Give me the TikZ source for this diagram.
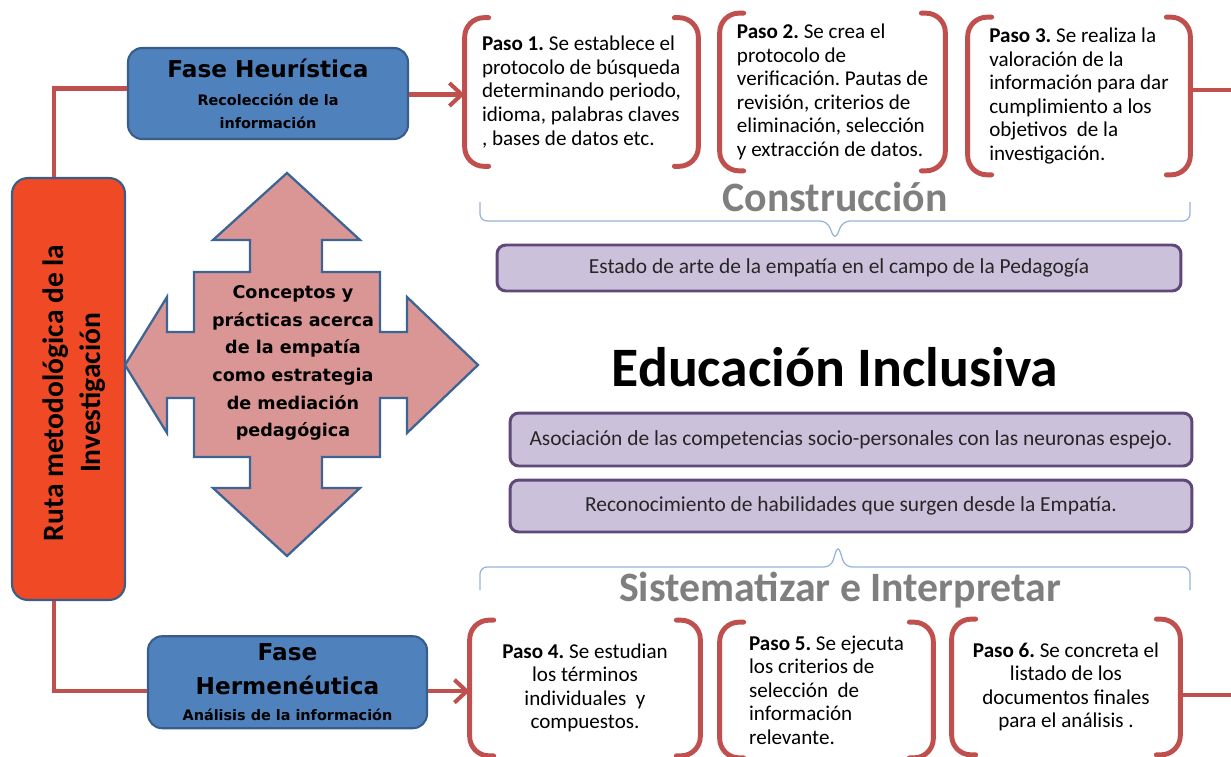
\documentclass[tikz,border=0pt]{standalone}
\usepackage{fontspec}
\setmainfont{Carlito}
\newfontfamily\tahfont{DejaVu Sans}
\usepackage{tikz}
\usetikzlibrary{shapes.geometric, arrows.meta, positioning, calc}

\definecolor{linkred}{HTML}{C0504D}
\definecolor{phaseblue}{HTML}{4F81BD}
\definecolor{phaseedge}{HTML}{385D8A}
\definecolor{rutared}{HTML}{EF4A25}
\definecolor{crosspink}{HTML}{D99694}
\definecolor{crossedge}{HTML}{3C6494}
\definecolor{lavender}{HTML}{CCC1DA}
\definecolor{lavedge}{HTML}{5F497A}
\definecolor{stagegray}{HTML}{7F7F7F}
\definecolor{braceblue}{HTML}{95B3D7}

\newcommand{\phasetitle}{\fontsize{13.2}{19.8}\selectfont}
\newcommand{\phasesub}{\fontsize{8.2}{12.5}\selectfont}

\begin{document}
\frenchspacing
\begin{tikzpicture}[x=0.02cm, y=-0.02cm]
    \tikzstyle{phase} = [rectangle, rounded corners=8pt, draw=phaseedge, line width=1.2pt, fill=phaseblue, align=center, inner sep=0pt, font=\tahfont\bfseries]
    \tikzstyle{steptext} = [rectangle, inner sep=0pt, font=\fontsize{12}{13.4}\selectfont]
    \tikzstyle{result} = [rectangle, rounded corners=5pt, draw=lavedge, line width=1.7pt, fill=lavender, text=black!85, font=\fontsize{12.2}{14}\selectfont]
    \tikzstyle{stage} = [text=stagegray, font=\fontsize{23.8}{28}\selectfont\bfseries]
    \tikzstyle{link} = [draw=linkred, line width=2.3pt]
    \tikzstyle{arrow} = [link, -{Straight Barb[length=7pt, width=13pt]}]
    \tikzstyle{brk} = [draw=linkred, line width=2.8pt, rounded corners=11pt, line cap=round]
    \tikzstyle{brc} = [draw=braceblue, line width=0.7pt, rounded corners=4pt]

    \useasboundingbox (0,0) rectangle (1231,757);

    % left column
    \node (ruta) [rectangle, rounded corners=9pt, draw=phaseedge, line width=1.2pt, fill=rutared, minimum width=2.26cm, minimum height=8.44cm] at (68.5,389) {};
    \node (rutatext) [rotate=90, align=center, font=\fontsize{16.8}{21}\selectfont\bfseries] at (74,393) {Ruta metodológica de la\\Investigación};

    \node (heur) [phase, minimum width=5.6cm, minimum height=1.82cm] at (268,93.5) {\phasetitle Fase Heurística\\[4pt]\phasesub Recolección de la\\[1pt]\phasesub información};
    \node (herm) [phase, minimum width=5.58cm, minimum height=1.84cm, yshift=5pt] at (287.5,691) {\phasetitle Fase\\[7pt]\phasetitle Hermenéutica\\[3pt]\phasesub Análisis de la información};

    % four-way arrow
    \draw[fill=crosspink, draw=crossedge, line width=1.3pt, line join=miter]
        (287,173) -- (360,240) -- (322,240) -- (322,272) -- (380,272) -- (380,332)
        -- (407,332) -- (407,297) -- (478,365) -- (407,433) -- (407,398) -- (380,398)
        -- (380,457) -- (322,457) -- (322,488) -- (360,488) -- (287,556) -- (213,488)
        -- (250,488) -- (250,457) -- (194,457) -- (194,398) -- (167,398) -- (167,433)
        -- (125,365) -- (167,297) -- (167,332) -- (194,332) -- (194,272) -- (250,272)
        -- (250,240) -- (213,240) -- cycle;
    \node (concepts) [align=center, font=\tahfont\fontsize{10}{15.7}\selectfont\bfseries] at (293,363) {Conceptos y\\prácticas acerca\\de la empatía\\como estrategia\\de mediación\\pedagógica};

    % steps
    \node (p1) [steptext, minimum width=4.66cm, minimum height=2.96cm, align=left] at (581.5,92) {\textbf{Paso 1.} Se establece el\\protocolo de búsqueda\\determinando periodo,\\idioma, palabras claves\\, bases de datos etc.};
    \node (p2) [steptext, minimum width=4.5cm, minimum height=3.14cm, align=left] at (832.5,92) {\textbf{Paso 2.} Se crea el\\protocolo de\\verificación. Pautas de\\revisión, criterios de\\eliminación, selección\\y extracción de datos.};
    \node (p3) [steptext, minimum width=4.44cm, minimum height=3.14cm, align=left] at (1079,96) {\textbf{Paso 3.} Se realiza la\\valoración de la\\información para dar\\cumplimiento a los\\objetivos~ de la\\investigación.};
    \node (p4) [steptext, minimum width=4.6cm, minimum height=2.7cm, align=center] at (585,688) {\textbf{Paso 4.} Se estudian\\los términos\\individuales~ y\\compuestos.};
    \node (p5) [steptext, minimum width=4.26cm, minimum height=2.7cm, align=left] at (826.5,690) {\textbf{Paso 5.} Se ejecuta\\los criterios de\\selección~ de\\información\\relevante.};
    \node (p6) [steptext, minimum width=4.56cm, minimum height=2.7cm, align=center] at (1066,687) {\textbf{Paso 6.} Se concreta el\\listado de los\\documentos finales\\para el análisis .};

    \foreach \s in {p1,p2,p3,p4,p5,p6} {
        \draw[brk] ($(\s.north west)+(24,0)$) -- (\s.north west) -- (\s.south west) -- ($(\s.south west)+(24,0)$);
        \draw[brk] ($(\s.north east)+(-24,0)$) -- (\s.north east) -- (\s.south east) -- ($(\s.south east)+(-24,0)$);
    }

    % centre column
    \node (constr) [stage] at (835,197) {Construcción};
    \draw[brc] (480,202) |- (827,221) -- (835,240) -- (843,221) -| (1190,202);
    \node (estado) [result, minimum width=13.68cm, minimum height=0.92cm] at (839,268) {Estado de arte de la empatía en el campo de la Pedagogía};
    \node (educ) [font=\fontsize{31.7}{36}\selectfont\bfseries] at (835,367) {Educación Inclusiva};
    \node (asoc) [result, minimum width=13.64cm, minimum height=1.06cm] at (851,439.5) {Asociación de las competencias socio-personales con las neuronas espejo.};
    \node (recon) [result, minimum width=13.64cm, minimum height=1.04cm] at (851,506) {Reconocimiento de habilidades que surgen desde la Empatía.};
    \draw[brc] (480,590) |- (831,567) -- (838,545) -- (845,567) -| (1190,590);
    \node (sistem) [stage] at (840,590) {Sistematizar e Interpretar};

    % connectors
    \coordinate (outtop) at (1231,90);
    \coordinate (outbot) at (1231,695);
    \draw[link] ($(ruta.north west)+(43,0)$) |- ($(heur.west)+(0,-5)$);
    \draw[link] ($(ruta.south west)+(43,0)$) |- ($(herm.west)+(0,9)$);
    \draw[arrow] ($(heur.east)+(0,1)$) -- ($(heur.east -| p1.west)+(0,1)$);
    \draw[arrow] ($(herm.east)+(0,9)$) -- ($(herm.east -| p4.west)+(0,9)$);
    \draw[link] (p3.east |- outtop) -- (outtop);
    \draw[link] (p6.east |- outbot) -- (outbot);
\end{tikzpicture}
\end{document}
